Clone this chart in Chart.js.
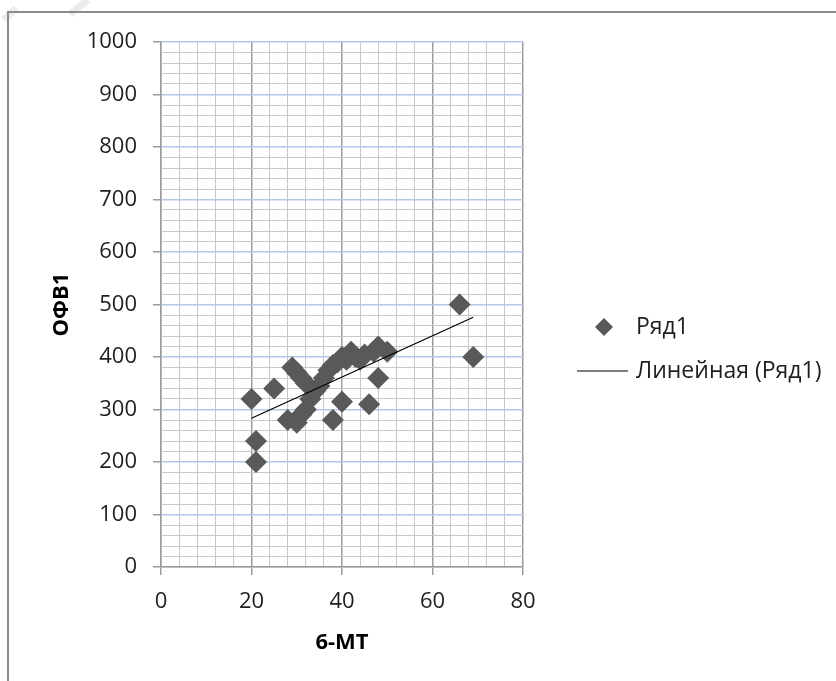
<!DOCTYPE html>
<html>
<head>
<meta charset="utf-8">
<script src="https://cdn.jsdelivr.net/npm/chart.js@4.4.0/dist/chart.umd.min.js"></script>
<style>
  html, body { margin: 0; padding: 0; background: #fff; }
  #wrap { width: 836px; height: 681px; }
</style>
</head>
<body>
<div id="wrap"><canvas id="chart" width="836" height="681"></canvas></div>
<script>
/* ── DATA ─────────────────────────────────────────────── */
const X_VALUES = [20, 21, 21, 25, 28, 29, 30, 30, 31, 31, 32, 32, 33, 34, 35, 36, 37, 38, 38, 39,
                  40, 40, 41, 42, 43, 44, 45, 46, 47, 48, 48, 50, 66, 69];
const Y_VALUES = [320, 240, 200, 340, 280, 380, 275, 370, 290, 360, 300, 350, 320, 335, 345, 360, 375, 280, 385, 390,
                  315, 400, 395, 410, 400, 395, 405, 310, 410, 420, 360, 410, 500, 400];
const X_TICKS = [0, 20, 40, 60, 80];
const Y_TICKS = [0, 100, 200, 300, 400, 500, 600, 700, 800, 900, 1000];
const SERIES_LABEL = 'Ряд1';
const TREND_LABEL = 'Линейная (Ряд1)';
const X_TITLE = '6-МТ';
const Y_TITLE = 'ОФВ1';

const FONT = '"Open Sans", "Liberation Sans", sans-serif';
const TEXT_COLOR = '#1e1e1e';
const POINT_COLOR = '#595959';

/* ── LINEAR TREND (least squares) ─────────────────────── */
function trend(xs, ys) {
  const n = xs.length;
  const mx = xs.reduce((a, b) => a + b, 0) / n;
  const my = ys.reduce((a, b) => a + b, 0) / n;
  let sxy = 0, sxx = 0;
  xs.forEach((x, i) => { sxy += (x - mx) * (ys[i] - my); sxx += (x - mx) * (x - mx); });
  const k = sxy / sxx, b = my - k * mx;
  const x0 = Math.min(...xs), x1 = Math.max(...xs);
  return [{ x: x0, y: k * x0 + b }, { x: x1, y: k * x1 + b }];
}

const points = X_VALUES.map((x, i) => ({ x, y: Y_VALUES[i] }));

/* ── FRAME + LEGEND ───────────────────────────────────── */
const framePlugin = {
  id: 'frame',
  beforeDraw(chart) {
    const ctx = chart.ctx;
    ctx.save();
    ctx.fillStyle = '#fff';
    ctx.fillRect(0, 0, chart.width, chart.height);
    // faint watermark strokes at the corner
    ctx.strokeStyle = '#ececec';
    ctx.lineWidth = 7;
    ctx.beginPath(); ctx.moveTo(4, 20); ctx.lineTo(16, 8); ctx.stroke();
    ctx.beginPath(); ctx.moveTo(70, 14); ctx.lineTo(88, 0); ctx.stroke();
    ctx.strokeStyle = '#8c8c8c';
    ctx.lineWidth = 2;
    ctx.beginPath();
    ctx.moveTo(8, chart.height);
    ctx.lineTo(8, 12);
    ctx.lineTo(chart.width, 12);
    ctx.stroke();
    ctx.restore();
  },
  afterDraw(chart) {
    const ctx = chart.ctx;
    ctx.save();
    ctx.font = '23px ' + FONT;
    ctx.textBaseline = 'middle';
    // series marker
    const cx = 604, cy = 327, r = 9;
    ctx.beginPath();
    ctx.moveTo(cx - r, cy); ctx.lineTo(cx, cy - r); ctx.lineTo(cx + r, cy); ctx.lineTo(cx, cy + r);
    ctx.closePath();
    ctx.fillStyle = POINT_COLOR;
    ctx.fill();
    ctx.fillStyle = TEXT_COLOR;
    ctx.fillText(SERIES_LABEL, 636, cy);
    // trend line marker
    const ly = 371;
    ctx.strokeStyle = '#000';
    ctx.lineWidth = 1.2;
    ctx.beginPath(); ctx.moveTo(577, ly); ctx.lineTo(628, ly); ctx.stroke();
    ctx.fillText(TREND_LABEL, 636, ly);
    ctx.restore();
  }
};

/* ── CHART ────────────────────────────────────────────── */
new Chart(document.getElementById('chart'), {
  type: 'scatter',
  data: {
    datasets: [
      {
        label: TREND_LABEL,
        type: 'line',
        data: trend(X_VALUES, Y_VALUES),
        borderColor: '#000',
        borderWidth: 1.2,
        pointRadius: 0,
        fill: false,
        order: 0
      },
      {
        label: SERIES_LABEL,
        data: points,
        pointStyle: 'rectRot',
        pointRadius: 11,
        pointHoverRadius: 11,
        backgroundColor: POINT_COLOR,
        borderWidth: 0,
        order: 1
      }
    ]
  },
  options: {
    responsive: false,
    animation: false,
    devicePixelRatio: 1,
    layout: { padding: { left: 0, right: 313, top: 42, bottom: 0 } },
    plugins: { legend: { display: false }, tooltip: { enabled: false } },
    scales: {
      x: {
        type: 'linear',
        min: 0, max: 80,
        afterFit: s => { s.height = 114; },
        ticks: {
          stepSize: 4, autoSkip: false, maxRotation: 0, padding: 14,
          color: TEXT_COLOR, font: { family: FONT, size: 22 },
          callback: v => X_TICKS.includes(v) ? String(v) : ''
        },
        grid: {
          color: c => X_TICKS.includes(c.tick.value) ? '#9c9c9c' : '#c8c8c8',
          lineWidth: c => X_TICKS.includes(c.tick.value) ? 1.5 : 1,
          tickLength: 8,
          tickColor: c => X_TICKS.includes(c.tick.value) ? '#9c9c9c' : 'rgba(0,0,0,0)'
        },
        border: { color: '#9c9c9c', width: 1.5 },
        title: {
          display: true, text: X_TITLE, color: '#000',
          font: { family: FONT, size: 22, weight: 'bold' },
          padding: { top: 0, bottom: 25 }
        }
      },
      y: {
        type: 'linear',
        min: 0, max: 1000,
        afterFit: s => { s.width = 161; },
        ticks: {
          stepSize: 20, autoSkip: false, padding: 16,
          color: TEXT_COLOR, font: { family: FONT, size: 22 },
          callback: v => Y_TICKS.includes(v) ? String(v) : ''
        },
        grid: {
          color: c => Y_TICKS.includes(c.tick.value) ? '#b4c7e7' : '#c8c8c8',
          lineWidth: c => Y_TICKS.includes(c.tick.value) ? 1.5 : 1,
          tickLength: 8,
          tickColor: c => Y_TICKS.includes(c.tick.value) ? '#9c9c9c' : 'rgba(0,0,0,0)'
        },
        border: { color: '#9c9c9c', width: 1.5 },
        title: {
          display: true, text: Y_TITLE, color: '#000',
          font: { family: FONT, size: 22, weight: 'bold' },
          padding: { top: 49, bottom: 0 }
        }
      }
    }
  },
  plugins: [framePlugin]
});
</script>
</body>
</html>
